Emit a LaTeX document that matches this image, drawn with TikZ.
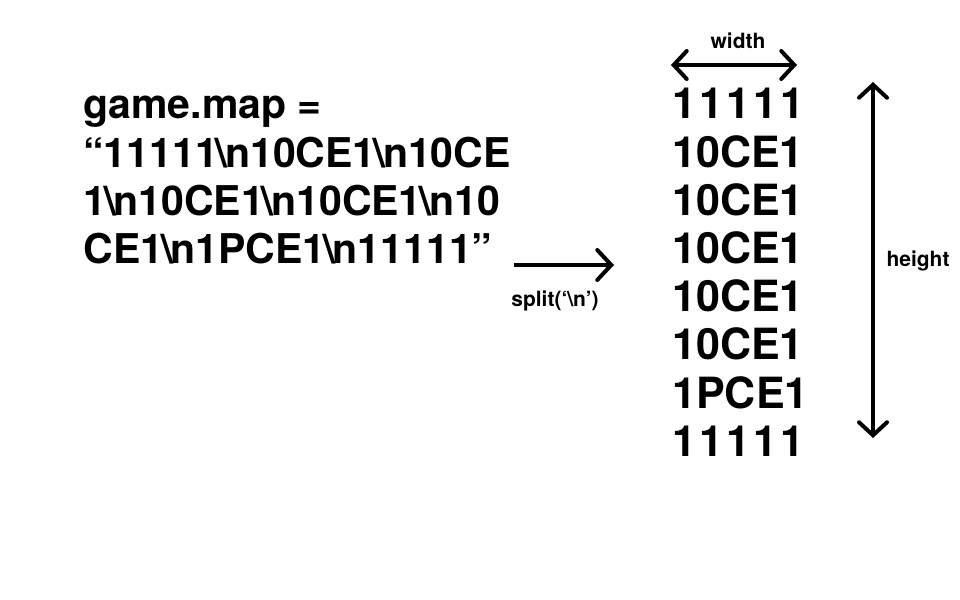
\documentclass[tikz,border=0pt]{standalone}
\usepackage{fontspec}
\setmainfont{TeX Gyre Heros}
\usetikzlibrary{arrows.meta,positioning}

% a tight "\n" as in the reference
\newcommand\nl{\kern-1pt\textbackslash\kern-1pt n}
\newcommand\ones{1\kern1.6pt1\kern1.6pt1\kern1.6pt1\kern1.6pt1}

\tikzset{
    bigtext/.style={anchor=base west, inner sep=0pt, font=\fontsize{20.5}{24}\selectfont\bfseries},
    rowtext/.style={anchor=base west, inner sep=0pt, font=\fontsize{21.5}{24}\selectfont\bfseries},
    smalllabel/.style={inner sep=0pt, font=\fontsize{10.5}{12}\selectfont\bfseries},
    dimarrow/.style={line width=2pt, line cap=round, {Straight Barb[length=6.5pt,width=14pt,line cap=round]}-{Straight Barb[length=6.5pt,width=14pt,line cap=round]}},
    splitarrow/.style={line width=2pt, -{Straight Barb[length=7pt,width=15pt,line cap=round]}},
}

\begin{document}
\begin{tikzpicture}[x=0.5pt, y=-0.5pt]
    \useasboundingbox (0,0) rectangle (960,600);

    % the map as one string
    \node [bigtext] (s1) at (83,118) {game.map =};
    \node [bigtext] (s2) at (83,167) {“11111\nl10CE1\nl10CE};
    \node [bigtext] (s3) at (83,215) {1\nl10CE1\nl10CE1\nl10};
    \node [bigtext] (s4) at (83,263) {CE1\nl1PCE1\nl11111”};

    % the map split into rows
    \node [rowtext] (r1) at (672,118) {\ones};
    \node [rowtext] (r2) at (672,167) {10CE1};
    \node [rowtext] (r3) at (672,215) {10CE1};
    \node [rowtext] (r4) at (672,263) {10CE1};
    \node [rowtext] (r5) at (672,311) {10CE1};
    \node [rowtext] (r6) at (672,359) {10CE1};
    \node [rowtext] (r7) at (672,408) {1PCE1};
    \node [rowtext] (r8) at (672,456) {\ones};

    \coordinate (sa) at (514,265);
    \coordinate (sb) at (614,265);
    \draw [splitarrow] (sa) -- (sb);
    \node [smalllabel] (split) at (555,301) {split(‘\textbackslash n’)};

    \coordinate (wa) at (671,65);
    \coordinate (wb) at (797,65);
    \draw [dimarrow] (wa) -- (wb);
    \node [smalllabel] (width) at (738,41) {width};

    \coordinate (ha) at (873,82);
    \coordinate (hb) at (873,438);
    \draw [dimarrow] (ha) -- (hb);
    \node [smalllabel] (height) at (918,261) {height};
\end{tikzpicture}
\end{document}
